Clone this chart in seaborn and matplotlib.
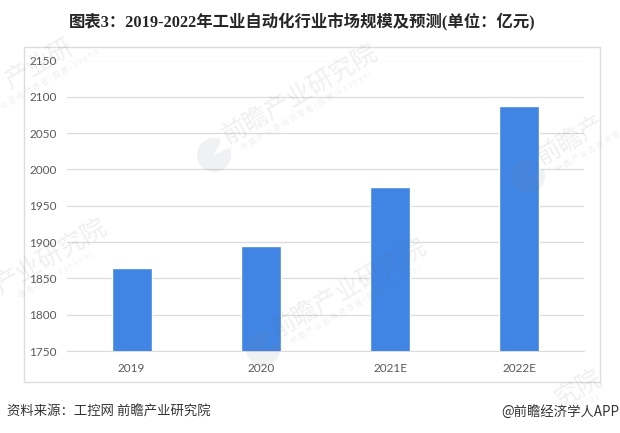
import matplotlib
matplotlib.use("Agg")
import matplotlib.pyplot as plt
from matplotlib.patches import Rectangle, Wedge
from matplotlib.transforms import IdentityTransform
import numpy as np
import pandas as pd
import seaborn as sns

sns.set_style("white")
plt.rcParams['font.family'] = ['Lato', 'Noto Sans CJK SC', 'DejaVu Sans']

# market size
years = ["2019", "2020", "2021E", "2022E"]
sizes = [1864, 1895, 1976, 2087]
yticks = [1750, 1800, 1850, 1900, 1950, 2000, 2050, 2100, 2150]

title = "图表3：2019-2022年工业自动化行业市场规模及预测(单位：亿元)"
source = "资料来源：工控网 前瞻产业研究院"
credit = "@前瞻经济学人APP"
wm_main = "前瞻产业研究院"
wm_sub = "中国产业咨询领导者(股票:839599)"
# watermark: logo centre in pixels from top left, then which characters of the
# two lines are inside the picture
wm_spots = [
    (214, 155, 0, 7, 0, 20),
    (528, 176, 0, 3, 0, 8),
    (263, 349, 0, 7, 0, 20),
    (-59, 331, 2, 7, 7, 20),
    (-48, 126, 2, 5, 3, 18),
    (434, 483, 5, 7, 18, 20),
]

W, H = 620, 433
fig = plt.figure(figsize=(W / 100, H / 100), dpi=100)
ax = fig.add_axes([67 / W, 1 - 351 / H, (584 - 67) / W, (351 - 60.5) / H])

df = pd.DataFrame({"year": years, "size": sizes})
sns.barplot(data=df, x="year", y="size", color="#4085e3", saturation=1, width=0.31, ax=ax, zorder=3)

ax.set_ylim(1750, 2150)
ax.set_xlim(-0.5, 3.5)
ax.set_yticks(yticks)
ax.set_xlabel("")
ax.set_ylabel("")
ax.grid(axis="y", color="#dcdcdc", lw=0.9)
ax.set_axisbelow(True)
sns.despine(ax=ax, left=True, right=True, top=True, bottom=False)
ax.spines["bottom"].set_color("#dcdcdc")
ax.tick_params(axis="both", length=0, labelsize=8.5, labelcolor="#595959")
ax.tick_params(axis="y", pad=7.5)
ax.tick_params(axis="x", pad=8.3)

# outer frame around the chart
fig.add_artist(Rectangle((23.5 / W, 1 - 382 / H), (599.5 - 23.5) / W, (382 - 46.5) / H,
                         transform=fig.transFigure, fill=False, ec="#dcdcdc", lw=1))

fig.text(302.5 / W, 1 - 21 / H, title, ha="center", va="center", fontsize=11.8, fontweight="bold",
         color="#262626", family=['Liberation Serif', 'Noto Sans CJK SC'])
fig.text(7 / W, 1 - 412 / H, source, ha="left", va="center", fontsize=9.6, color="#333333",
         family=['Noto Sans CJK SC'])
fig.text(619 / W, 1 - 412 / H, credit, ha="right", va="center", fontsize=9.6, color="#333333",
         family=['Noto Sans CJK SC'])

# watermark, drawn over everything like in the picture
logo_color = (0.45, 0.5, 0.6, 0.11)
text_color = (0.4, 0.4, 0.45, 0.10)
angle = 30
dx, dy = np.cos(np.radians(angle)), np.sin(np.radians(angle))
main_step, sub_step = 26.0, 8.3
for cx, cy, m0, m1, s0, s1 in wm_spots:
    fig.add_artist(Wedge((cx, H - cy), 17, 65, 385, transform=IdentityTransform(),
                         fc=logo_color, ec="none", zorder=10))
    mx = cx + 10 + m0 * main_step * dx
    my = cy - 17 - m0 * main_step * dy
    fig.text(mx / W, 1 - my / H, wm_main[m0:m1], rotation=angle, rotation_mode="anchor",
             fontsize=18, color=text_color, ha="left", va="center",
             family=['Noto Sans CJK SC'], zorder=10)
    sx = cx + 28 + s0 * sub_step * dx
    sy = cy - 6 - s0 * sub_step * dy
    fig.text(sx / W, 1 - sy / H, " ".join(wm_sub[s0:s1]), rotation=angle, rotation_mode="anchor",
             fontsize=5.5, color=text_color, ha="left", va="center",
             family=['Noto Sans CJK SC'], zorder=10)

fig.savefig("out.png", dpi=100)
